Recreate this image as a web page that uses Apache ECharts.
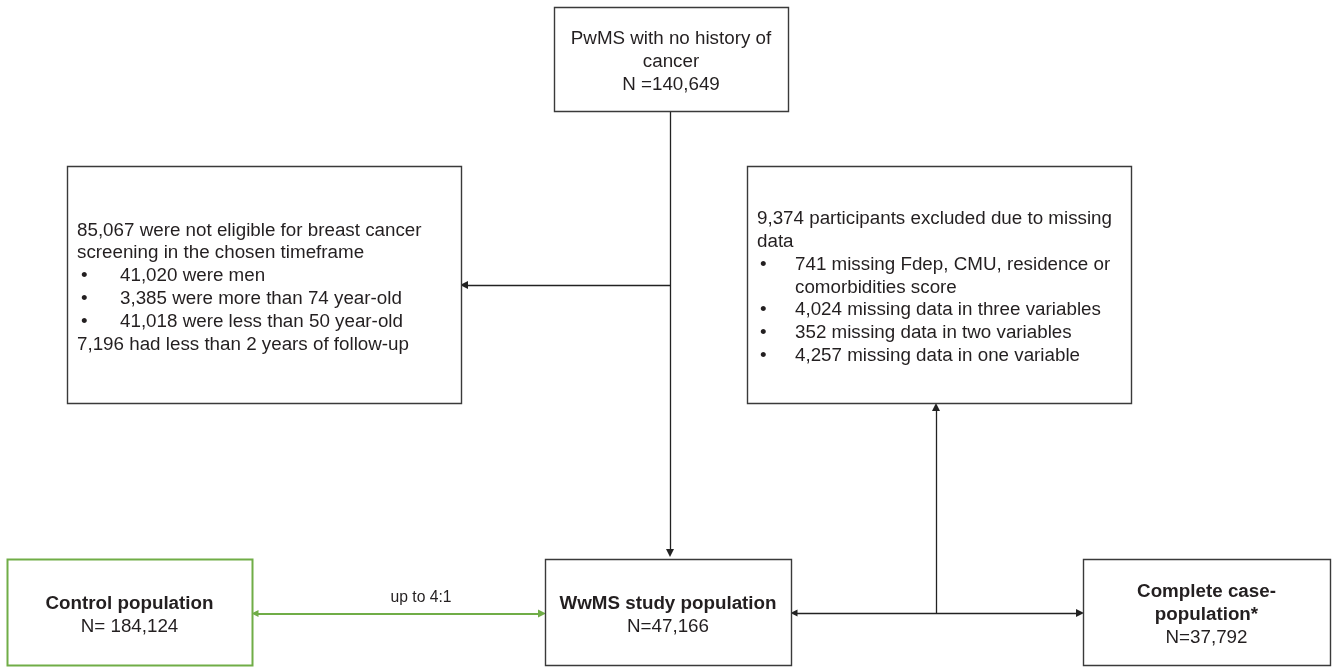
<!DOCTYPE html>
<html>
<head>
<meta charset="utf-8">
<script src="https://cdn.jsdelivr.net/npm/echarts@6/dist/echarts.min.js"></script>
<style>html,body{margin:0;padding:0;background:#fff}#c{width:1335px;height:667px}</style>
</head>
<body>
<div id="c"></div>
<script>
// ---- content (data) ----
const topBoxLines = ['PwMS with no history of', 'cancer', 'N =140,649'];
const exclusionLines = [
  '85,067 were not eligible for breast cancer',
  'screening in the chosen timeframe',
  '•41,020 were men',
  '•3,385 were more than 74 year-old',
  '•41,018 were less than 50 year-old',
  '7,196 had less than 2 years of follow-up'
];
const missingLines = [
  '9,374 participants excluded due to missing',
  'data',
  '•741 missing Fdep, CMU, residence or',
  '\tcomorbidities score',
  '•4,024 missing data in three variables',
  '•352 missing data in two variables',
  '•4,257 missing data in one variable'
];
const controlLines = ['*Control population', 'N= 184,124'];
const studyLines = ['*WwMS study population', 'N=47,166'];
const completeLines = ['*Complete case-', '*population*', 'N=37,792'];
const matchLabel = ['up to 4:1'];

// ---- layout (positions / styles, kept apart from content) ----
const TXT = '#231f20', BORDER = '#3a3a3a', GREEN = '#70ad47';
const FONT = '"Liberation Sans", Arial, sans-serif';
const SZ = 18.8;
const boxes = [
  { lines: topBoxLines,   x: 554,  y: 7,   w: 234, h: 104, align: 'center', size: SZ, color: BORDER },
  { lines: exclusionLines,x: 67,   y: 166, w: 394, h: 237, align: 'left', pad: 10, bulletX: 14, indent: 53, size: SZ, color: BORDER },
  { lines: missingLines,  x: 747,  y: 166, w: 384, h: 237, align: 'left', pad: 10, bulletX: 13, indent: 48, size: SZ, color: BORDER },
  { lines: controlLines,  x: 7,    y: 559, w: 245, h: 106, align: 'center', size: SZ, color: GREEN, lw: 2 },
  { lines: studyLines,    x: 545,  y: 559, w: 246, h: 106, align: 'center', size: SZ, color: BORDER },
  { lines: completeLines, x: 1083, y: 559, w: 247, h: 106, align: 'center', size: SZ, color: BORDER },
  { lines: matchLabel,    x: 390,  y: 588, w: 62,  h: 20,  align: 'center', size: 15.7, color: null, dy: 0 }
];
const LH = 22.8;

const singleArrows = [
  [[670, 111], [670, 553]],
  [[670, 285], [464, 285]],
  [[936, 613], [936, 407]]
];
const doubleArrows = [
  [[794, 613], [1080, 613]]
];
const greenArrows = [
  [[255, 613.5], [542, 613.5]]
];

function renderBox(params, api) {
  const b = boxes[api.value(0)];
  const p1 = api.coord([b.x, b.y]);
  const p2 = api.coord([b.x + b.w, b.y + b.h]);
  const x = p1[0], y = p1[1], w = p2[0] - p1[0], h = p2[1] - p1[1];
  const children = [];
  if (b.color) {
    children.push({
      type: 'rect',
      shape: { x: Math.round(x) + 0.5, y: Math.round(y) + 0.5, width: Math.round(w), height: Math.round(h) },
      style: { fill: '#fff', stroke: b.color, lineWidth: b.lw || 1.4 }
    });
  }
  const n = b.lines.length;
  const cy = y + h / 2 + (b.dy != null ? b.dy : 3);
  b.lines.forEach((raw, i) => {
    let t = raw, bold = false, bullet = false, indent = false;
    if (t[0] === '*') { bold = true; t = t.slice(1); }
    if (t[0] === '•') { bullet = true; t = t.slice(1); }
    if (t[0] === '\t') { indent = true; t = t.slice(1); }
    const ly = cy + (i - (n - 1) / 2) * LH;
    const font = (bold ? 'bold ' : '') + b.size + 'px ' + FONT;
    const base = { fill: TXT, font: font, verticalAlign: 'middle', textVerticalAlign: 'middle' };
    if (b.align === 'center') {
      children.push({ type: 'text', style: Object.assign({ text: t, x: x + w / 2, y: ly, align: 'center', textAlign: 'center' }, base) });
    } else {
      let tx = x + b.pad;
      if (bullet) {
        children.push({ type: 'text', style: Object.assign({ text: '•', x: x + b.bulletX, y: ly, align: 'left', textAlign: 'left' }, base) });
        tx = x + b.indent;
      }
      if (indent) tx = x + b.indent;
      children.push({ type: 'text', style: Object.assign({ text: t, x: tx, y: ly, align: 'left', textAlign: 'left' }, base) });
    }
  });
  return { type: 'group', children: children };
}

const chart = echarts.init(document.getElementById('c'), null, { renderer: 'canvas' });
const arrowCommon = { type: 'lines', coordinateSystem: 'cartesian2d', z: 1, symbolSize: [7, 8], silent: true };
chart.setOption({
  animation: false,
  backgroundColor: '#fff',
  grid: { left: 0, right: 0, top: 0, bottom: 0 },
  xAxis: { type: 'value', min: 0, max: 1335, show: false },
  yAxis: { type: 'value', min: 0, max: 667, inverse: true, show: false },
  series: [
    Object.assign({}, arrowCommon, {
      symbol: ['none', 'triangle'],
      lineStyle: { color: '#222', width: 1.3, opacity: 1, curveness: 0 },
      itemStyle: { color: '#222' },
      data: singleArrows.map(c => ({ coords: c }))
    }),
    Object.assign({}, arrowCommon, {
      symbol: ['triangle', 'triangle'],
      lineStyle: { color: '#222', width: 1.3, opacity: 1, curveness: 0 },
      data: doubleArrows.map(c => ({ coords: c }))
    }),
    Object.assign({}, arrowCommon, {
      symbol: ['triangle', 'triangle'],
      lineStyle: { color: GREEN, width: 2, opacity: 1, curveness: 0 },
      data: greenArrows.map(c => ({ coords: c }))
    }),
    {
      type: 'custom', coordinateSystem: 'cartesian2d', z: 2,
      renderItem: renderBox,
      data: boxes.map((b, i) => [i]),
      silent: true
    }
  ]
});
</script>
</body>
</html>
